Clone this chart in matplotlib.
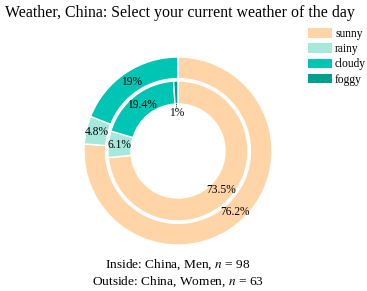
import matplotlib
matplotlib.use("Agg")
import matplotlib.pyplot as plt
from matplotlib.patches import Patch
import numpy as np

plt.rcParams['font.family'] = ['Liberation Serif', 'DejaVu Serif']
plt.rcParams['mathtext.fontset'] = 'stix'

categories = ["sunny", "rainy", "cloudy", "foggy"]
colors = ["#FFD5A8", "#A6E9DB", "#00C5B4", "#00A08E"]

# percentages
outside_women = [76.2, 4.8, 19.0, 0.0]
inside_men = [73.5, 6.1, 19.4, 1.0]

title = "Weather, China: Select your current weather of the day"
caption = ["Inside: China, Men, $n$ = 98", "Outside: China, Women, $n$ = 63"]

W, H = 367, 291
fig = plt.figure(figsize=(W / 100, H / 100), dpi=100)

# axes so that center sits at (178,151) px and radius 1 = 94 px
cx, cy, R = 178, 151, 94
ax = fig.add_axes([(cx - R) / W, (H - cy - R) / H, 2 * R / W, 2 * R / H])
ax.set_xlim(-1, 1)
ax.set_ylim(-1, 1)
ax.axis("off")

outer_r, outer_w = 1.0, 0.23
inner_r, inner_w = 0.745, 0.245

ax.pie(outside_women, radius=outer_r, colors=colors, startangle=90, counterclock=False,
       wedgeprops=dict(width=outer_w, edgecolor="white", linewidth=1))
ax.pie(inside_men, radius=inner_r, colors=colors, startangle=90, counterclock=False,
       wedgeprops=dict(width=inner_w, edgecolor="white", linewidth=1))
ax.set_xlim(-1, 1)
ax.set_ylim(-1, 1)


def fmt(v):
    return ("%.1f" % v).rstrip("0").rstrip(".") + "%"


def put_labels(vals, r_mid, small_r=None):
    total = sum(vals)
    start = 0.0
    for v in vals:
        if v <= 0:
            continue
        mid = (start + v / 2) / total * 2 * np.pi
        start += v
        sx, sy = np.sin(mid), np.cos(mid)
        if v < 3 and small_r is not None:
            r0 = inner_r - inner_w
            ax.plot([r0 * sx, (r0 - 0.05) * sx], [r0 * sy, (r0 - 0.05) * sy],
                    color="#333333", lw=0.6, ls=(0, (1.5, 1)))
            ax.text(small_r * sx, small_r * sy, fmt(v), ha="center", va="center", fontsize=8.3)
        else:
            ax.text(r_mid * sx, r_mid * sy, fmt(v), ha="center", va="center", fontsize=8.3)


put_labels(outside_women, outer_r - outer_w / 2)
put_labels(inside_men, inner_r - inner_w / 2, small_r=0.40)

fig.text(5 / W, 1 - 13 / H, title, ha="left", va="center", fontsize=11.4)

handles = [Patch(facecolor=c, edgecolor="none") for c in colors]
fig.legend(handles, categories, loc="upper left", bbox_to_anchor=(308 / W, 1 - 28 / H),
           frameon=False, fontsize=8.3, handlelength=2.1, handleheight=0.9,
           labelspacing=0.28, handletextpad=0.25, borderpad=0, borderaxespad=0)

fig.text(cx / W, 1 - 265 / H, caption[0], ha="center", va="center", fontsize=9.6)
fig.text(cx / W, 1 - 282 / H, caption[1], ha="center", va="center", fontsize=9.6)

fig.savefig("out.png", dpi=100)
